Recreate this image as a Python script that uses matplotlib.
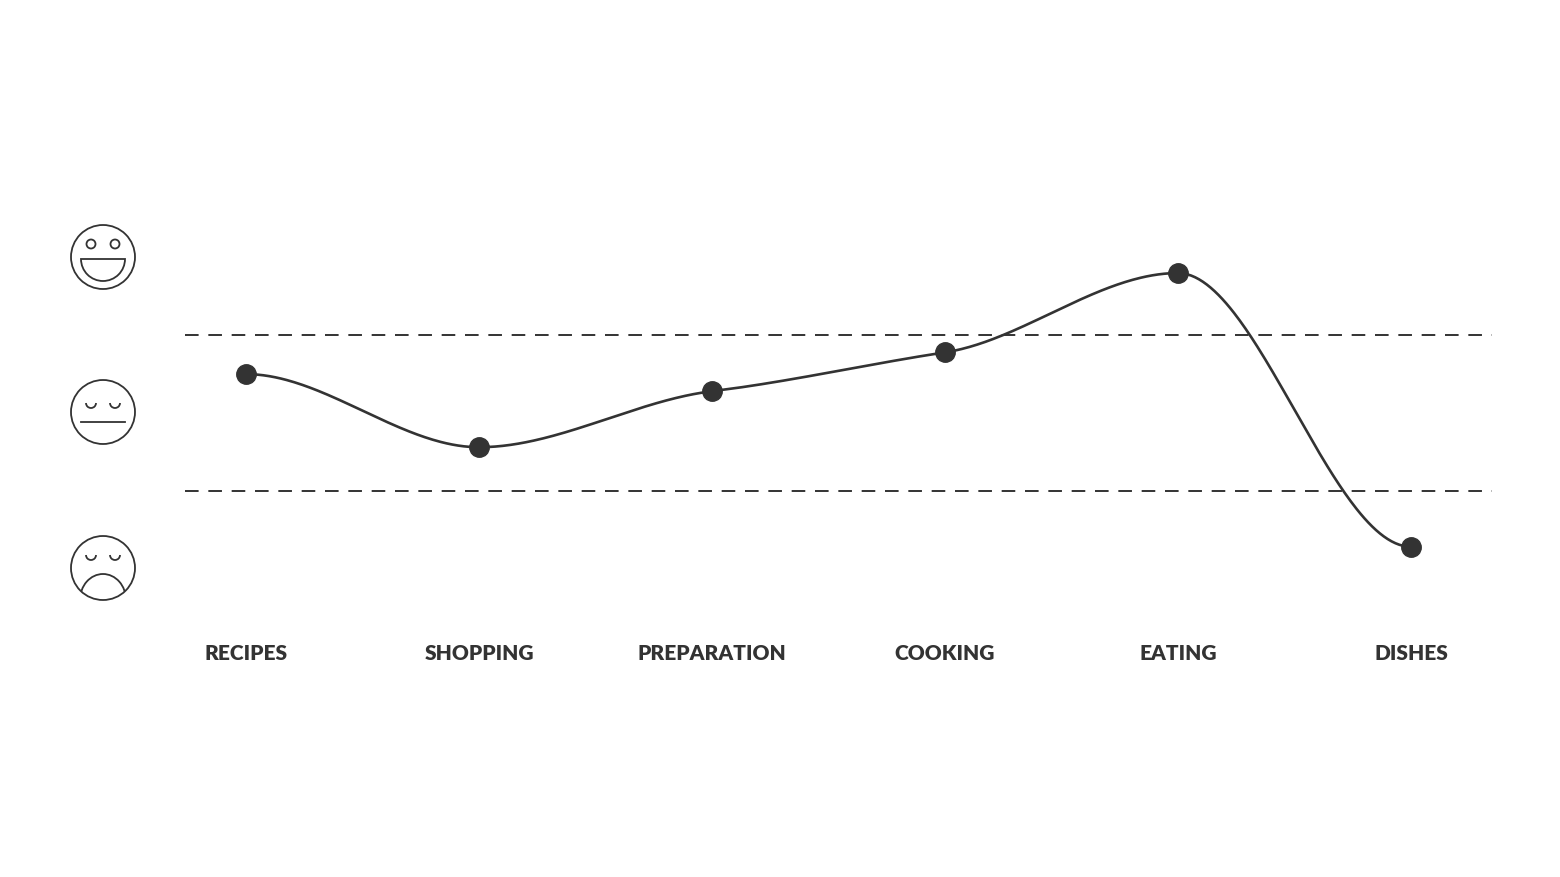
import numpy as np
import matplotlib.pyplot as plt
from matplotlib.patches import Circle, Arc, Wedge

stages = ["RECIPES", "SHOPPING", "PREPARATION", "COOKING", "EATING", "DISHES"]
# mood: 1 = happy, 0 = neutral, -1 = unhappy
mood = [0.25, -0.22, 0.14, 0.39, 0.90, -0.86]
bands = [0.5, -0.5]

ink = "#333333"


def smooth(x, y, xs):
    # cubic hermite with flat tangents at local extrema
    x = np.asarray(x, float)
    y = np.asarray(y, float)
    h = np.diff(x)
    d = np.diff(y) / h
    m = np.zeros_like(y)
    for i in range(1, len(y) - 1):
        if d[i - 1] * d[i] > 0:
            m[i] = 0.5 * (d[i - 1] + d[i]) * 0.6
    out = []
    for xv in xs:
        i = min(np.searchsorted(x, xv, side="right") - 1, len(x) - 2)
        t = (xv - x[i]) / h[i]
        h00 = 2 * t**3 - 3 * t**2 + 1
        h10 = t**3 - 2 * t**2 + t
        h01 = -2 * t**3 + 3 * t**2
        h11 = t**3 - t**2
        out.append(h00 * y[i] + h10 * h[i] * m[i] + h01 * y[i + 1] + h11 * h[i] * m[i + 1])
    return np.array(out)


fig = plt.figure(figsize=(15.6, 8.78), dpi=100)
ax = fig.add_axes([0, 0, 1, 1])
ax.set_xlim(-246 / 233, (1560 - 246) / 233)
ax.set_ylim((414 - 878) / 155.5, 414 / 155.5)
ax.axis("off")

xi = np.arange(len(stages))
xs = np.linspace(0, len(stages) - 1, 600)
ax.plot(xs, smooth(xi, mood, xs), color=ink, lw=1.9, zorder=2)
ax.plot(xi, mood, "o", color=ink, ms=14, zorder=3)

x0, x1 = (185 - 246) / 233, (1492 - 246) / 233
for b in bands:
    ax.plot([x0, x1], [b, b], color=ink, lw=1.4, dashes=(7, 5), zorder=1)

for i, s in enumerate(stages):
    ax.text(i, (414 - 654) / 155.5, s, ha="center", va="center",
            fontsize=15, fontweight="heavy", color=ink, family="Lato")

# face icons in pixel coordinates
ov = fig.add_axes([0, 0, 1, 1])
ov.set_xlim(0, 1560)
ov.set_ylim(878, 0)
ov.axis("off")
ov.patch.set_alpha(0)
lw = 1.3
for cy in (258, 413, 569):
    ov.add_patch(Circle((103, cy), 32, fill=False, ec=ink, lw=lw))
# happy
cy = 258
for ex in (91, 115):
    ov.add_patch(Circle((ex, cy - 13), 4.5, fill=False, ec=ink, lw=lw))
ov.add_patch(Wedge((103, cy + 2), 22, 0, 180, fill=False, ec=ink, lw=lw))
# neutral
cy = 413
for ex in (91, 115):
    ov.add_patch(Arc((ex, cy - 9), 10, 10, theta1=0, theta2=180, ec=ink, lw=lw))
ov.plot([81, 125], [cy + 10, cy + 10], color=ink, lw=lw)
# sad
cy = 569
for ex in (91, 115):
    ov.add_patch(Arc((ex, cy - 13), 10, 10, theta1=0, theta2=180, ec=ink, lw=lw))
face = Circle((103, cy), 32, transform=ov.transData)
mouth = Arc((103, cy + 32), 46, 52, theta1=180, theta2=360, ec=ink, lw=lw)
ov.add_patch(mouth)
mouth.set_clip_path(face)

fig.savefig("out.png", dpi=100, facecolor="white")
